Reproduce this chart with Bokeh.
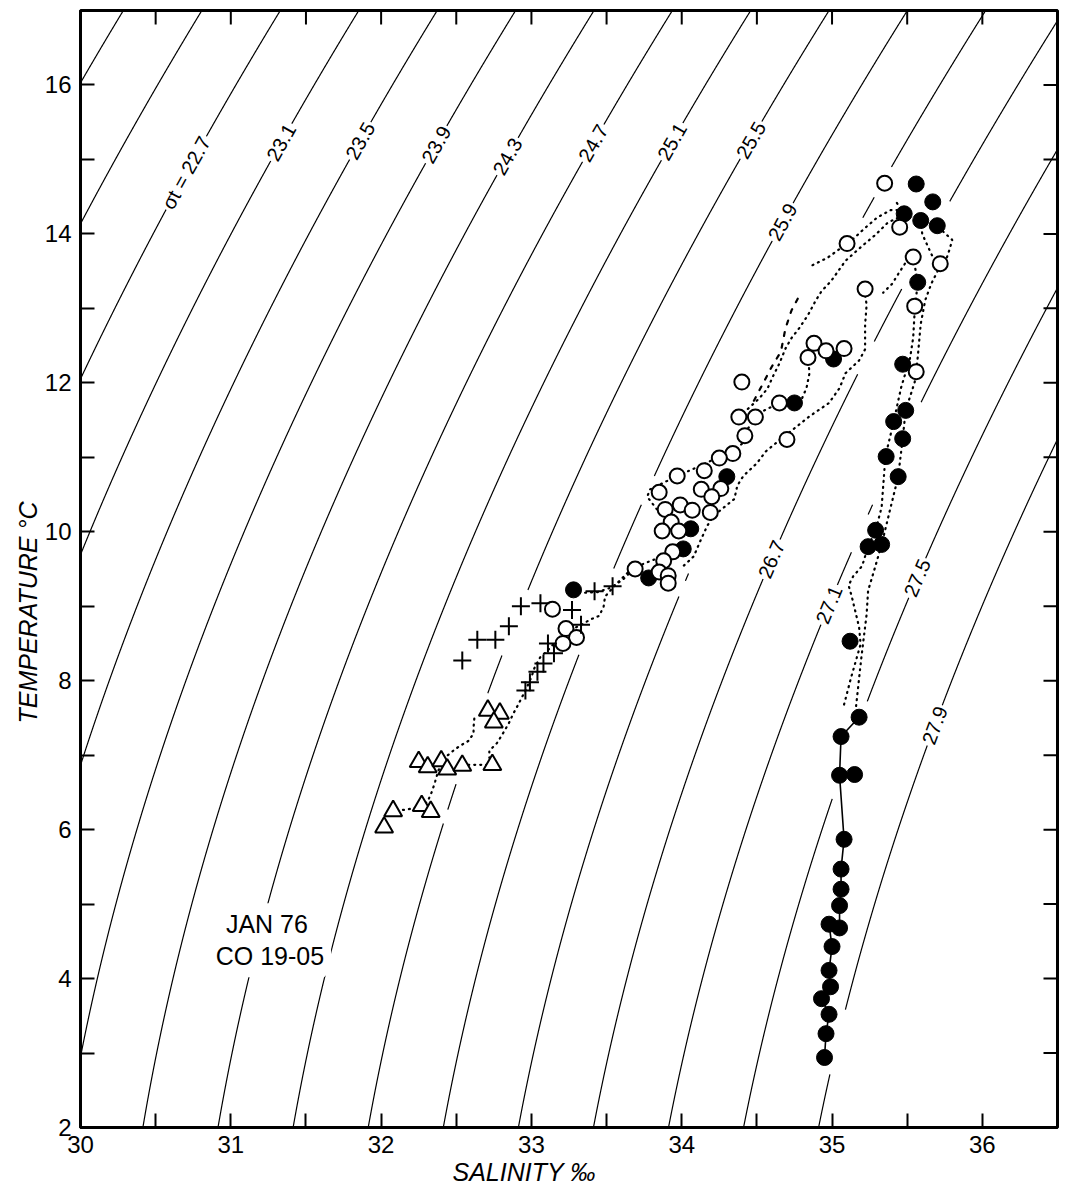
import numpy as np
from bokeh.plotting import figure
from bokeh.models import FixedTicker, Label, Title
from bokeh.embed import file_html
from bokeh.resources import INLINE

# ---------------- data ----------------
sigma_levels = [21.9, 22.3, 22.7, 23.1, 23.5, 23.9, 24.3, 24.7, 25.1, 25.5,
                25.9, 26.3, 26.7, 27.1, 27.5, 27.9]
iso_label_sigma = [22.7, 23.1, 23.5, 23.9, 24.3, 24.7, 25.1, 25.5, 25.9, 26.7, 27.1, 27.5, 27.9]
iso_label_T = [14.82, 15.23, 15.25, 15.20, 15.04, 15.22, 15.24, 15.26, 14.16, 9.63, 9.02, 9.38, 7.40]
iso_label_text = ["σt = 22.7", "23.1", "23.5", "23.9", "24.3", "24.7", "25.1", "25.5",
                  "25.9", "26.7", "27.1", "27.5", "27.9"]

filled_S = [35.56, 35.67, 35.48, 35.59, 35.70, 35.57, 35.01, 35.47, 34.75, 35.49, 35.41, 35.47,
            35.36, 35.44, 35.29, 35.24, 35.33, 35.12, 35.18, 35.06, 35.05, 35.15, 35.08, 35.06,
            35.06, 35.05, 34.98, 35.05, 35.00, 34.98, 34.99, 34.93, 34.98, 34.96, 34.95,
            34.30, 34.06, 34.01, 33.78, 33.28]
filled_T = [14.67, 14.43, 14.27, 14.18, 14.11, 13.35, 12.32, 12.25, 11.73, 11.63, 11.48, 11.25,
            11.01, 10.74, 10.02, 9.80, 9.83, 8.53, 7.51, 7.25, 6.73, 6.74, 5.87, 5.47,
            5.20, 4.98, 4.73, 4.68, 4.43, 4.11, 3.89, 3.73, 3.52, 3.26, 2.94,
            10.74, 10.04, 9.77, 9.38, 9.22]

open_S = [35.35, 35.45, 35.10, 35.54, 35.72, 35.22, 35.55, 34.88, 34.84, 34.96, 35.08, 35.56,
          34.65, 34.70,
          34.40, 34.38, 34.49, 34.42, 34.34, 34.25, 34.15, 33.97, 33.85, 34.13, 34.26, 34.20,
          33.99, 34.07, 33.89, 34.19, 33.93, 33.87, 33.98, 33.94, 33.88, 33.69, 33.85, 33.91,
          33.91,
          33.14, 33.23, 33.30, 33.21]
open_T = [14.68, 14.09, 13.87, 13.69, 13.60, 13.26, 13.03, 12.53, 12.34, 12.43, 12.46, 12.15,
          11.73, 11.24,
          12.01, 11.54, 11.54, 11.29, 11.05, 10.99, 10.82, 10.75, 10.53, 10.57, 10.58, 10.47,
          10.36, 10.29, 10.30, 10.26, 10.13, 10.01, 10.01, 9.73, 9.61, 9.50, 9.46, 9.41,
          9.31,
          8.96, 8.70, 8.58, 8.50]

plus_S = [32.54, 32.64, 32.76, 32.85, 32.93, 33.06, 33.27, 33.42, 33.54, 33.33, 33.11, 33.15,
          33.08, 33.04, 32.99, 32.96]
plus_T = [8.27, 8.55, 8.55, 8.73, 9.00, 9.04, 8.95, 9.20, 9.27, 8.75, 8.50, 8.37,
          8.23, 8.12, 7.98, 7.87]

tri_S = [32.71, 32.79, 32.75, 32.25, 32.31, 32.40, 32.44, 32.54, 32.74, 32.08, 32.27, 32.33, 32.02]
tri_T = [7.60, 7.56, 7.44, 6.91, 6.84, 6.92, 6.81, 6.86, 6.87, 6.25, 6.32, 6.24, 6.03]

column_S = [34.95, 34.96, 34.98, 34.93, 34.99, 34.98, 35.00, 34.98, 35.05, 35.05, 35.06, 35.06,
            35.08, 35.05, 35.06, 35.18]
column_T = [2.94, 3.26, 3.52, 3.73, 3.89, 4.11, 4.43, 4.73, 4.68, 4.98, 5.20, 5.47,
            5.87, 6.73, 7.25, 7.51]

trace_p1_S = [35.08, 35.125, 35.19, 35.18, 35.13, 35.11, 35.14, 35.20, 35.24, 35.29, 35.33, 35.355,
              35.41, 35.46, 35.52, 35.54, 35.55, 35.57, 35.54]
trace_p1_T = [7.68, 8.03, 8.49, 8.72, 9.14, 9.28, 9.40, 9.54, 9.80, 10.02, 10.33, 11.01,
              11.48, 11.94, 12.34, 12.61, 12.97, 13.35, 13.69]
trace_p2_S = [35.16, 35.195, 35.23, 35.24, 35.28, 35.33, 35.39, 35.44, 35.47, 35.49, 35.55, 35.57,
              35.59, 35.62, 35.66, 35.70, 35.72, 35.76, 35.78, 35.80, 35.75, 35.70]
trace_p2_T = [7.66, 8.31, 8.89, 9.21, 9.48, 9.83, 10.33, 10.74, 11.25, 11.63, 12.01, 12.34,
              12.79, 13.11, 13.33, 13.49, 13.60, 13.66, 13.78, 13.92, 14.01, 14.11]
trace_p3_S = [35.59, 35.60, 35.64, 35.67, 35.72]
trace_p3_T = [14.18, 14.00, 13.82, 13.69, 13.60]
trace_p5_S = [35.485, 35.44, 35.40, 35.34]
trace_p5_T = [13.60, 13.46, 13.33, 13.21]
trace_a_S = [34.87, 34.97, 35.10, 35.15, 35.22, 35.30, 35.39, 35.46, 35.43]
trace_a_T = [13.58, 13.68, 13.87, 13.95, 14.08, 14.22, 14.32, 14.32, 14.42]
trace_b_S = [34.44, 34.515, 34.57, 34.61, 34.65, 34.69, 34.73, 34.78, 34.84, 34.89, 34.93, 34.995,
             35.09, 35.19, 35.29, 35.37, 35.44]
trace_b_T = [11.65, 11.79, 11.92, 12.10, 12.26, 12.46, 12.60, 12.73, 12.91, 13.10, 13.23, 13.37,
             13.64, 13.82, 13.99, 14.15, 14.22]
trace_c_S = [34.48, 34.53, 34.60, 34.66, 34.69, 34.73, 34.79]
trace_c_T = [11.76, 11.95, 12.22, 12.42, 12.73, 12.97, 13.20]
trace_d_S = [35.215, 35.23, 35.22, 35.22, 35.22, 35.18, 35.09, 35.05, 34.98, 34.85, 34.75, 34.65,
             34.56, 34.50, 34.41, 34.37, 34.35, 34.27, 34.21, 34.17, 34.12, 34.08, 33.99]
trace_d_T = [13.25, 13.05, 12.78, 12.65, 12.45, 12.30, 12.13, 11.93, 11.73, 11.55, 11.39, 11.23,
             11.08, 10.92, 10.75, 10.62, 10.44, 10.31, 10.21, 10.08, 9.86, 9.67, 9.50]
trace_e_S = [33.835, 33.77, 33.79, 33.90, 33.97, 34.05, 34.15, 34.25, 34.34, 34.40, 34.43, 34.47,
             34.54, 34.60, 34.66, 34.75, 34.80, 34.83, 34.85, 34.84]
trace_e_T = [10.30, 10.47, 10.57, 10.68, 10.75, 10.82, 10.91, 11.01, 11.07, 11.18, 11.35, 11.48,
             11.62, 11.68, 11.75, 11.73, 11.79, 11.93, 12.13, 12.34]
trace_l1_S = [33.28, 33.35, 33.44, 33.53, 33.61, 33.69, 33.77, 33.86, 33.92, 34.01]
trace_l1_T = [9.22, 9.18, 9.19, 9.25, 9.36, 9.52, 9.59, 9.66, 9.73, 9.77]
trace_l2_S = [33.64, 33.56, 33.49, 33.48, 33.45, 33.39, 33.33, 33.26, 33.20, 33.15, 33.11, 33.06,
              33.02, 33.00, 32.97, 32.91, 32.88, 32.85, 32.81, 32.77, 32.72, 32.72, 32.74]
trace_l2_T = [9.45, 9.29, 9.13, 8.99, 8.87, 8.82, 8.75, 8.68, 8.59, 8.50, 8.41, 8.32,
              8.17, 8.05, 7.91, 7.67, 7.56, 7.43, 7.29, 7.16, 7.06, 6.97, 6.87]
trace_l3_S = [32.62, 32.615, 32.615, 32.58, 32.52, 32.48, 32.42, 32.38, 32.36, 32.34, 32.31, 32.27,
              32.17, 32.08]
trace_l3_T = [7.49, 7.37, 7.29, 7.19, 7.12, 7.06, 6.96, 6.79, 6.65, 6.52, 6.38, 6.31, 6.27, 6.25]
trace_l4_S = [32.54, 32.58, 32.64, 32.74]
trace_l4_T = [6.86, 6.87, 6.87, 6.87]

x_major = [30, 31, 32, 33, 34, 35, 36]
x_minor = [30.5, 31.5, 32.5, 33.5, 34.5, 35.5]
y_major = [2, 4, 6, 8, 10, 12, 14, 16]
y_minor = [3, 5, 7, 9, 11, 13, 15]
top_ticks = [30.5, 31, 31.5, 32, 32.5, 33, 33.5, 34, 34.5, 35, 35.5, 36]
right_ticks = [3, 4, 5, 6, 7, 8, 9, 10, 11, 12, 13, 14, 15, 16]

# ---------------- layout ----------------
FONT = "Liberation Sans"
W, H = 1064, 1190
ML, MR, MT, MB = 80, 7, 10, 63
FW, FH = W - ML - MR, H - MT - MB
X0, X1, Y0, Y1 = 30.0, 36.5, 2.0, 17.0
PX, PY = FW / (X1 - X0), FH / (Y1 - Y0)
TICK = 14

p = figure(width=W, height=H, x_range=(X0, X1), y_range=(Y0, Y1),
           output_backend="svg", toolbar_location=None,
           min_border_left=ML, min_border_right=MR, min_border_top=MT, min_border_bottom=MB)
p.grid.visible = False
p.background_fill_color = "white"
p.border_fill_color = "white"
p.outline_line_color = "black"
p.outline_line_width = 3


def style_axis(ax, ticks, minor, standoff):
    ax.ticker = FixedTicker(ticks=ticks, minor_ticks=minor)
    ax.axis_line_width = 3
    ax.axis_line_color = "black"
    ax.major_tick_in = TICK
    ax.major_tick_out = 0
    ax.minor_tick_in = TICK
    ax.minor_tick_out = 0
    ax.major_tick_line_width = 2
    ax.minor_tick_line_width = 2
    ax.major_tick_line_color = "black"
    ax.minor_tick_line_color = "black"
    ax.major_label_text_font = FONT
    ax.major_label_text_font_size = "24px"
    ax.major_label_text_color = "black"
    ax.major_label_standoff = standoff


style_axis(p.xaxis[0], x_major, x_minor, 8)
style_axis(p.yaxis[0], y_major, y_minor, 9)

# axis titles placed off-centre, as in the reference
p.add_layout(Title(text="SALINITY ‰", align="left", offset=372, standoff=0,
                   text_font=FONT, text_font_size="25px", text_font_style="italic",
                   text_color="black"), "below")
p.add_layout(Title(text="TEMPERATURE °C", align="left", offset=404, standoff=0,
                   text_font=FONT, text_font_size="25px", text_font_style="italic",
                   text_color="black"), "left")

# inward tick marks on the top and right edges
p.segment(x0=top_ticks, y0=[Y1] * len(top_ticks), x1=top_ticks,
          y1=[Y1 - TICK / PY] * len(top_ticks), line_color="black", line_width=2)
p.segment(x0=[X1] * len(right_ticks), y0=right_ticks, x1=[X1 - TICK / PX] * len(right_ticks),
          y1=right_ticks, line_color="black", line_width=2)


# ---------------- isopycnals (UNESCO 1980, p = 0) ----------------
def sigma_t(S, T):
    rw = (999.842594 + 6.793952e-2 * T - 9.095290e-3 * T ** 2 + 1.001685e-4 * T ** 3
          - 1.120083e-6 * T ** 4 + 6.536332e-9 * T ** 5)
    A = 8.24493e-1 - 4.0899e-3 * T + 7.6438e-5 * T ** 2 - 8.2467e-7 * T ** 3 + 5.3875e-9 * T ** 4
    B = -5.72466e-3 + 1.0227e-4 * T - 1.6546e-6 * T ** 2
    C = 4.8314e-4
    return rw + A * S + B * S ** 1.5 + C * S ** 2 - 1000.0


def solve_S(sig, T):
    T = np.asarray(T, dtype=float)
    lo = np.full_like(T, 15.0)
    hi = np.full_like(T, 45.0)
    for _ in range(60):
        mid = 0.5 * (lo + hi)
        f = sigma_t(mid, T) - sig
        lo = np.where(f < 0, mid, lo)
        hi = np.where(f < 0, hi, mid)
    return 0.5 * (lo + hi)


def to_screen(S, T):
    return (np.asarray(S, float) - X0) * PX, (np.asarray(T, float) - Y0) * PY


traces = [(trace_p1_S, trace_p1_T, "1 5"), (trace_p2_S, trace_p2_T, "1 5"),
          (trace_p3_S, trace_p3_T, "1 5"), (trace_p5_S, trace_p5_T, "1 5"),
          (trace_a_S, trace_a_T, "1 5"), (trace_b_S, trace_b_T, "1 5"),
          (trace_c_S, trace_c_T, "4 8"), (trace_d_S, trace_d_T, "1 5"),
          (trace_e_S, trace_e_T, "1 5"), (trace_l1_S, trace_l1_T, "1 5"),
          (trace_l2_S, trace_l2_T, "1 5"), (trace_l3_S, trace_l3_T, "1 5"),
          (trace_l4_S, trace_l4_T, "1 5")]

mx, my = to_screen(filled_S + open_S + plus_S + tri_S, filled_T + open_T + plus_T + tri_T)
tx, ty = [], []
for S_, T_, _ in traces + [(column_S, column_T, "")]:
    xs, ys = to_screen(S_, T_)
    for i in range(len(xs) - 1):
        d = np.hypot(xs[i + 1] - xs[i], ys[i + 1] - ys[i])
        n = max(2, int(d / 2.0) + 1)
        tx.append(np.linspace(xs[i], xs[i + 1], n))
        ty.append(np.linspace(ys[i], ys[i + 1], n))
tx = np.concatenate(tx)
ty = np.concatenate(ty)

T_line = np.linspace(1.8, 17.2, 1400)
for lev in sigma_levels:
    S_line = solve_S(lev, T_line)
    keep = (S_line > 29.7) & (S_line < 36.8)
    S_k = S_line[keep].copy()
    T_k = T_line[keep]
    lx, ly = to_screen(S_k, T_k)
    dm = np.min(np.hypot(lx[:, None] - mx[None, :], ly[:, None] - my[None, :]), axis=1)
    dt = np.min(np.hypot(lx[:, None] - tx[None, :], ly[:, None] - ty[None, :]), axis=1)
    S_k[(dm < 17) | (dt < 9)] = np.nan
    p.line(S_k, T_k, line_color="black", line_width=1.2)

# ---------------- traces ----------------
for S_, T_, dash in traces:
    p.line(S_, T_, line_color="black", line_width=2.2, line_dash=dash, line_cap="round")
p.line(column_S, column_T, line_color="black", line_width=1.6)

# ---------------- markers ----------------
p.scatter(filled_S, filled_T, marker="circle", size=16, fill_color="black", line_color="black")
p.scatter(open_S, open_T, marker="circle", size=15, fill_color="white", line_color="black",
          line_width=2)
p.scatter(plus_S, plus_T, marker="cross", size=18, line_color="black", line_width=2)
p.scatter(tri_S, tri_T, marker="triangle", size=18, fill_color="white", line_color="black",
          line_width=2)

# ---------------- isopycnal labels ----------------
for lev, tl, txt in zip(iso_label_sigma, iso_label_T, iso_label_text):
    s0 = float(solve_S(lev, np.array([tl]))[0])
    s_a = float(solve_S(lev, np.array([tl - 0.02]))[0])
    s_b = float(solve_S(lev, np.array([tl + 0.02]))[0])
    dsdt = (s_b - s_a) / 0.04
    ang = float(np.arctan2(PY, PX * dsdt))
    p.add_layout(Label(x=s0, y=tl, text=txt, angle=ang, text_font=FONT, text_font_size="20px",
                       text_align="center", text_baseline="middle", text_color="black",
                       background_fill_color="white", border_line_color="white",
                       border_line_width=4))

# ---------------- annotations ----------------
p.add_layout(Label(x=31.24, y=4.73, text="JAN 76", text_font=FONT, text_font_size="25px",
                   text_align="center", text_baseline="middle", text_color="black",
                   background_fill_color="white", border_line_color="white",
                   border_line_width=14))
p.add_layout(Label(x=31.26, y=4.30, text="CO 19-05", text_font=FONT, text_font_size="25px",
                   text_align="center", text_baseline="middle", text_color="black",
                   background_fill_color="white", border_line_color="white",
                   border_line_width=14))

open("out.html", "w", encoding="utf-8").write(file_html(p, INLINE))
